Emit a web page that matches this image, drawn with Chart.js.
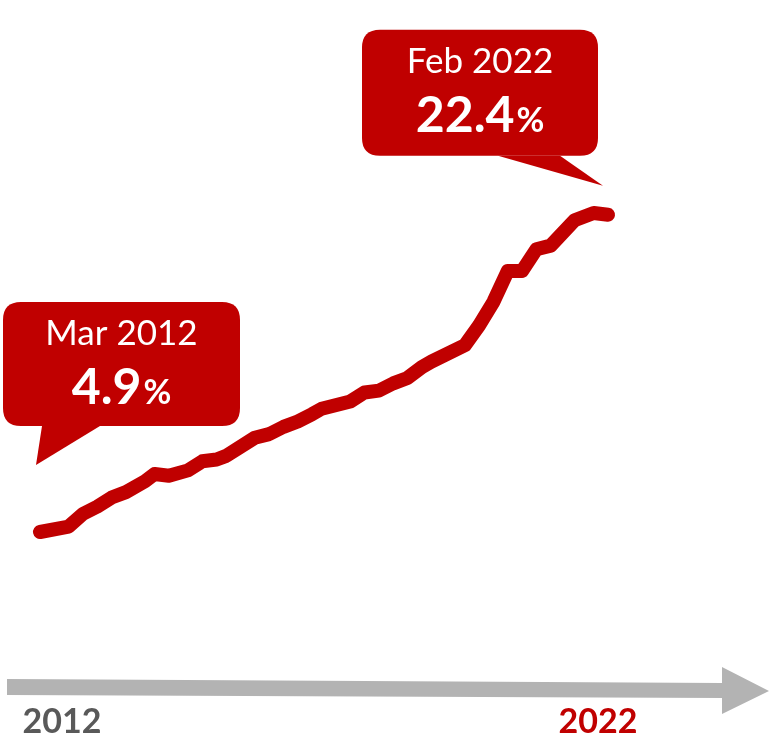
<!DOCTYPE html>
<html>
<head>
<meta charset="utf-8">
<script src="https://cdn.jsdelivr.net/npm/chart.js@4"></script>
<style>
  html, body { margin: 0; padding: 0; background: #ffffff; }
  #wrap { position: relative; width: 769px; height: 742px; }
</style>
</head>
<body>
<div id="wrap"><canvas id="c"></canvas></div>
<script>
// ---- Data ----
const periods = ['Mar 2012','Sep 2012','Dec 2012','Mar 2013','Jun 2013','Sep 2013','Jan 2014','Mar 2014',
  'Jun 2014','Oct 2014','Jan 2015','Apr 2015','Jun 2015','Dec 2015','Mar 2016','Jun 2016','Sep 2016',
  'Dec 2016','Feb 2017','Aug 2017','Nov 2017','Feb 2018','May 2018','Aug 2018','Nov 2018','Jan 2019',
  'Aug 2019','Nov 2019','Feb 2020','May 2020','Aug 2020','Nov 2020','Feb 2021','Jul 2021','Nov 2021','Feb 2022'];
const values = [4.9,5.2,5.9,6.3,6.8,7.1,7.7,8.1,8.0,8.3,8.8,8.9,9.1,10.1,10.3,10.7,11.0,11.4,11.7,
  12.1,12.6,12.7,13.1,13.4,14.0,14.3,15.2,16.3,17.6,19.3,19.3,20.5,20.7,22.1,22.5,22.4];
const axisLabels = ['2012', '2022'];
const calloutTitles = ['Mar 2012', 'Feb 2022'];
const calloutValues = ['4.9', '22.4'];

const RED = '#C00000';
const MONTHS = ['Jan','Feb','Mar','Apr','May','Jun','Jul','Aug','Sep','Oct','Nov','Dec'];
function monthIndex(p) {
  const [m, y] = p.split(' ');
  return (parseInt(y, 10) - 2012) * 12 + MONTHS.indexOf(m) - 2;
}
const points = periods.map((p, i) => ({ x: monthIndex(p), y: values[i] }));

function roundRect(ctx, x, y, w, h, r) {
  ctx.moveTo(x + r, y);
  ctx.lineTo(x + w - r, y);
  ctx.quadraticCurveTo(x + w, y, x + w, y + r);
  ctx.lineTo(x + w, y + h - r);
  ctx.quadraticCurveTo(x + w, y + h, x + w - r, y + h);
  ctx.lineTo(x + r, y + h);
  ctx.quadraticCurveTo(x, y + h, x, y + h - r);
  ctx.lineTo(x, y + r);
  ctx.quadraticCurveTo(x, y, x + r, y);
  ctx.closePath();
}

function drawCallout(ctx, anchor, box, tail, title, val) {
  ctx.save();
  ctx.fillStyle = RED;
  ctx.beginPath();
  roundRect(ctx, anchor.x + box.dx, anchor.y + box.dy, box.w, box.h, 18);
  ctx.fill();
  ctx.beginPath();
  ctx.moveTo(anchor.x + tail[0][0], anchor.y + tail[0][1]);
  ctx.lineTo(anchor.x + tail[1][0], anchor.y + tail[1][1]);
  ctx.lineTo(anchor.x + tail[2][0], anchor.y + tail[2][1]);
  ctx.closePath();
  ctx.fill();

  const cx = anchor.x + box.dx + box.w / 2;
  const top = anchor.y + box.dy;
  ctx.fillStyle = '#ffffff';
  ctx.textBaseline = 'alphabetic';
  ctx.textAlign = 'center';
  ctx.font = '400 35px Lato, "Open Sans", sans-serif';
  ctx.fillText(title, cx, top + 43);

  ctx.textAlign = 'left';
  const bigFont = '700 50px Lato, "Open Sans", sans-serif';
  const smallFont = '700 34px Lato, "Open Sans", sans-serif';
  ctx.font = bigFont;
  const w1 = ctx.measureText(val).width;
  ctx.font = smallFont;
  const w2 = ctx.measureText('%').width;
  const start = cx - (w1 + w2 + 2) / 2;
  ctx.font = bigFont;
  ctx.fillText(val, start, top + 102);
  ctx.font = smallFont;
  ctx.fillText('%', start + w1 + 2, top + 102);
  ctx.restore();
}

const decorPlugin = {
  id: 'decor',
  beforeDatasetsDraw(chart) {
    const ctx = chart.ctx;
    // gray time arrow
    ctx.save();
    ctx.fillStyle = '#B3B3B3';
    ctx.beginPath();
    ctx.moveTo(7, 679);
    ctx.lineTo(722, 683);
    ctx.lineTo(722, 667);
    ctx.lineTo(769, 691);
    ctx.lineTo(722, 714);
    ctx.lineTo(722, 698);
    ctx.lineTo(7, 695);
    ctx.closePath();
    ctx.fill();

    // axis year labels, placed from the x scale
    const xs = chart.scales.x;
    const firstX = xs.getPixelForValue(points[0].x);
    const lastX = xs.getPixelForValue(points[points.length - 1].x);
    ctx.font = '700 34px Lato, "Open Sans", sans-serif';
    ctx.textAlign = 'center';
    ctx.textBaseline = 'alphabetic';
    ctx.fillStyle = '#595959';
    ctx.fillText(axisLabels[0], firstX + 22, 733);
    ctx.fillStyle = RED;
    ctx.fillText(axisLabels[1], lastX - 10, 733);
    ctx.restore();
  },
  afterDatasetsDraw(chart) {
    const ctx = chart.ctx;
    const meta = chart.getDatasetMeta(0);
    const p0 = meta.data[0];
    const pN = meta.data[meta.data.length - 1];
    drawCallout(ctx, { x: p0.x, y: p0.y },
      { dx: -37, dy: -230, w: 237, h: 124 },
      [[2, -106], [-4, -67], [60, -106]],
      calloutTitles[0], calloutValues[0]);
    drawCallout(ctx, { x: pN.x, y: pN.y },
      { dx: -246, dy: -185, w: 236, h: 126 },
      [[-110, -59], [-5, -29], [-48, -59]],
      calloutTitles[1], calloutValues[1]);
  }
};

new Chart(document.getElementById('c'), {
  type: 'line',
  data: {
    datasets: [{
      data: points,
      borderColor: RED,
      borderWidth: 14,
      borderCapStyle: 'round',
      borderJoinStyle: 'round',
      pointRadius: 0,
      pointHoverRadius: 0,
      tension: 0,
      fill: false,
      clip: false
    }]
  },
  options: {
    responsive: true,
    maintainAspectRatio: false,
    animation: false,
    events: [],
    layout: { padding: { left: 40, right: 161, top: 213, bottom: 210 } },
    plugins: { legend: { display: false }, tooltip: { enabled: false }, title: { display: false } },
    scales: {
      x: { type: 'linear', display: false, min: 0, max: 119 },
      y: { type: 'linear', display: false, min: 4.9, max: 22.5 }
    }
  },
  plugins: [decorPlugin]
});
</script>
</body>
</html>
